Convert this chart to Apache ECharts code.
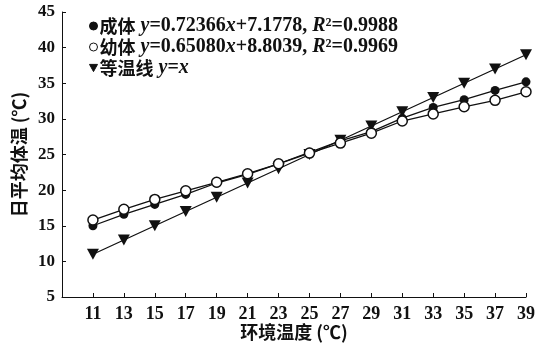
<!DOCTYPE html>
<html>
<head>
<meta charset="utf-8">
<script src="https://cdn.jsdelivr.net/npm/echarts@6/dist/echarts.min.js"></script>
<style>html,body{margin:0;padding:0;background:#fff}#c{width:535px;height:343px}</style>
</head>
<body>
<div id="c"></div>
<script>
const xValues = [11, 13, 15, 17, 19, 21, 23, 25, 27, 29, 31, 33, 35, 37, 39];
const adult = [15.0, 16.6, 18.0, 19.4, 21.0, 22.2, 23.7, 25.3, 26.9, 28.2, 30.1, 31.6, 32.7, 34.0, 35.2];
const juvenile = [15.8, 17.3, 18.7, 19.9, 21.1, 22.3, 23.7, 25.2, 26.6, 28.0, 29.7, 30.7, 31.7, 32.6, 33.8];
const isotherm = [11, 13, 15, 17, 19, 21, 23, 25, 27, 29, 31, 33, 35, 37, 39];
const xTicks = [11, 13, 15, 17, 19, 21, 23, 25, 27, 29, 31, 33, 35, 37, 39];
const seriesNames = ['成体', '幼体', '等温线'];

const serif = '"Liberation Serif", "Noto Sans CJK SC", serif';
const cjk = '"Noto Sans CJK SC", sans-serif';
const pair = (ys) => xValues.map((x, i) => [x, ys[i]]);
const triDown = 'path://M0,0 L10,0 L5,9 Z';

const chart = echarts.init(document.getElementById('c'), null, {renderer: 'canvas'});
const rich = {
  cn: {fontFamily: cjk, fontWeight: 'bold', fontSize: 18, color: '#111', lineHeight: 20},
  sp: {width: 5, lineHeight: 20},
  i: {fontFamily: serif, fontStyle: 'italic', fontWeight: 'bold', fontSize: 20, color: '#111', lineHeight: 20},
  n: {fontFamily: serif, fontWeight: 'bold', fontSize: 20, color: '#111', lineHeight: 20}
};
const legendText = {
  '成体': '{cn|成体}{sp|}{i|y}{n|=0.72366}{i|x}{n|+7.1778, }{i|R}{n|²=0.9988}',
  '幼体': '{cn|幼体}{sp|}{i|y}{n|=0.65080}{i|x}{n|+8.8039, }{i|R}{n|²=0.9969}',
  '等温线': '{cn|等温线}{sp|}{i|y}{n|=}{i|x}'
};
chart.setOption({
  animation: false,
  backgroundColor: '#fff',
  grid: {left: 62, right: 9, top: 12, bottom: 46, containLabel: false, outerBoundsMode: 'none'},
  legend: {
    orient: 'vertical', left: 84, top: 11, itemGap: 1,
    itemWidth: 8, itemHeight: 8,
    itemStyle: {borderWidth: 1, borderColor: '#111'},
    data: [
      {name: '成体', icon: 'circle'},
      {name: '幼体', icon: 'circle'},
      {name: '等温线', icon: triDown}
    ],
    formatter: (name) => legendText[name],
    textStyle: {rich: rich, padding: [0, 0, 0, -3], lineHeight: 20}
  },
  xAxis: {
    type: 'value', min: 9, max: 39,
    name: '环境温度 (℃)', nameLocation: 'middle', nameGap: 26, nameMoveOverlap: false,
    nameTextStyle: {fontFamily: cjk, fontWeight: 'bold', fontSize: 18, color: '#111'},
    axisLine: {lineStyle: {color: '#111', width: 1}},
    axisTick: {inside: true, length: 4, customValues: xTicks, lineStyle: {color: '#111'}},
    axisLabel: {customValues: xTicks, fontFamily: serif, fontWeight: 'bold', fontSize: 18, color: '#111', margin: 8},
    splitLine: {show: false}
  },
  yAxis: {
    type: 'value', min: 5, max: 45, interval: 5,
    name: '日平均体温 (℃)', nameLocation: 'middle', nameGap: 34, nameRotate: 90, nameMoveOverlap: false,
    nameTextStyle: {fontFamily: cjk, fontWeight: 'bold', fontSize: 18, color: '#111'},
    axisLine: {show: true, lineStyle: {color: '#111', width: 1}},
    axisTick: {show: true, inside: true, length: 4, lineStyle: {color: '#111'}},
    axisLabel: {fontFamily: serif, fontWeight: 'bold', fontSize: 17, color: '#111', margin: 7},
    splitLine: {show: false}
  },
  series: [
    {name: seriesNames[2], type: 'line', data: pair(isotherm), symbol: triDown, symbolSize: [12, 11],
      itemStyle: {color: '#111', borderColor: '#111', borderWidth: 0}, lineStyle: {color: '#111', width: 1.3}, z: 2},
    {name: seriesNames[0], type: 'line', data: pair(adult), symbol: 'circle', symbolSize: 9,
      itemStyle: {color: '#111', borderColor: '#111', borderWidth: 0}, lineStyle: {color: '#111', width: 1.3}, z: 3},
    {name: seriesNames[1], type: 'line', data: pair(juvenile), symbol: 'circle', symbolSize: 10,
      itemStyle: {color: '#fff', borderColor: '#111', borderWidth: 1.5}, lineStyle: {color: '#111', width: 1.3}, z: 4}
  ]
});
</script>
</body>
</html>
